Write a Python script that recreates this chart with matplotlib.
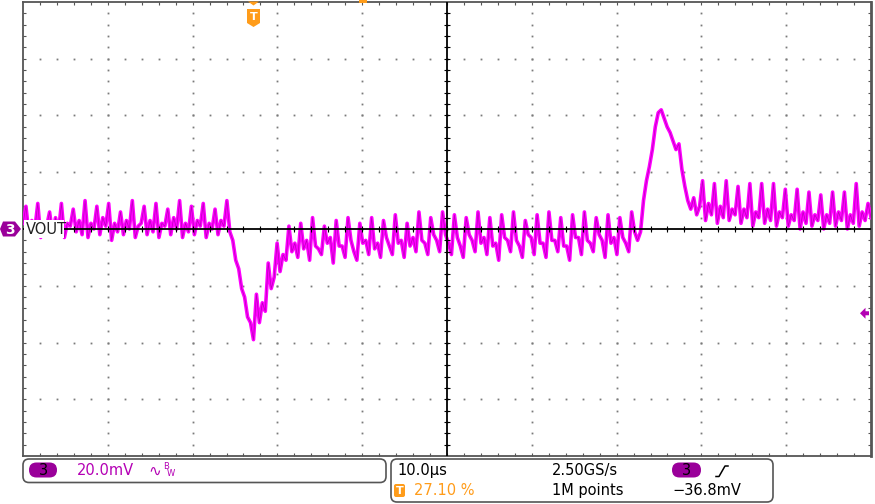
import numpy as np
import matplotlib
matplotlib.use('Agg')
import matplotlib.pyplot as plt
from matplotlib.patches import FancyBboxPatch, Polygon, Rectangle
from matplotlib.lines import Line2D

# scope setup
mv_per_div = 20.0
us_per_div = 10.0
n_hdiv, n_vdiv = 10, 8
trig_pct = 27.10
trig_marker_mv = -29.7

# channel 3 (VOUT), mV, equally spaced samples across the screen
vout_pre = [2, 8, -2, 3, 0, 9, -3, 2, 1, 6, -2, 4, -1, 9, -3, 2,
            1, 7, -1, 3, -2, 10, -3, 2, 0, 8, -2, 4, 1, 9, -4, 2,
            -1, 6, -2, 3, 0, 10, -3, 1, 2, 8, -2, 3, -1, 9, -3, 2,
            1, 7, -2, 4, 0, 10, -3, 2, -1, 8, -2, 3, 1, 9, -3, 2,
            0, 7, -2, 3, 1, 10, -1]
vout_dip = [-4, -11, -14, -21, -24, -31, -33, -39,
            -23, -33, -26, -29, -12, -21, -17, -5, -15, -9, -11, 1, -8]
vout_mid = [-5, -10, 2, -7, -4, -11, 4, -6, -7, -9, 1, -5, -3, -12, 3, -6,
            -6, -10, 4, -4, -8, -11, 2, -5, -4, -9, 4, -7, -5, -10, 3, -3,
            -6, -9, 5, -5, -4, -10, 2, -6, -3, -8, 6, -4, -5, -9, 4, -2,
            -4, -8, 6,
            -2, -5, -9, 5, -3, -6, -10, 4, -2, -4, -8, 6, -5, -3, -9, 4, -6,
            -5, -11, 5, -3, -4, -8, 6, -4, -6, -10, 3, -2, -3, -9, 5, -5,
            -5, -10, 6, -4, -4, -8, 4, -6, -6, -11, 5, -3, -3, -9, 6, -4,
            -5, -8, 4, -2, -4, -10, 5, -5, -3, -9, 4, -3, -5, -8, 6, -1, -4]
vout_peak = [-1, 10, 17, 22, 28, 36, 41, 42, 39, 36, 34, 31, 28, 30, 21,
             15, 10, 7, 11, 5]
vout_post = [8, 17, 3, 9, 5, 16, 2, 8, 4, 17, 3, 7, 5, 15, 2, 7, 4,
             16, 1, 6, 4, 16, 2, 7, 3, 16, 1, 6, 4, 14, 1, 5, 3,
             14, 0, 6, 2, 13, 1, 5, 3, 12, 0, 5, 2, 13, 1, 6, 3,
             13, 0, 5, 2, 16, 1, 6, 3, 9, 4]

vout = np.array(vout_pre + vout_dip + vout_mid + vout_peak + vout_post, float)

span = n_hdiv * us_per_div
t0 = -trig_pct / 100 * span
t = np.linspace(t0, t0 + span, len(vout))
ylo, yhi = -n_vdiv / 2 * mv_per_div, n_vdiv / 2 * mv_per_div
tc = t0 + span / 2

W, H = 875, 504
fig = plt.figure(figsize=(W / 100, H / 100), dpi=100)
ax = fig.add_axes([23 / W, (H - 456) / H, 848 / W, 454 / H])
ax.set_xlim(t0, t0 + span)
ax.set_ylim(ylo, yhi)

# dotted graticule
xmaj = t0 + us_per_div * np.arange(1, n_hdiv)
ymaj = ylo + mv_per_div * np.arange(1, n_vdiv)
xmin = t0 + us_per_div / 5 * np.arange(1, n_hdiv * 5)
ymin = ylo + mv_per_div / 5 * np.arange(1, n_vdiv * 5)
for x in xmaj:
    ax.plot(np.full_like(ymin, x), ymin, ls='', marker='s', ms=1.3,
            mec='none', color='#7a7a7a', zorder=1)
for y in ymaj:
    ax.plot(xmin, np.full_like(xmin, y), ls='', marker='s', ms=1.3,
            mec='none', color='#7a7a7a', zorder=1)

ax.plot(t, vout, color='#ff00ff', lw=2.6, zorder=3)
ax.plot(t, vout, color='#8a008a', lw=0.5, alpha=0.6, zorder=3)

ax.axhline(0, color='black', lw=1.3, zorder=4)
ax.axvline(tc, color='black', lw=1.3, zorder=4)
ax.plot(xmin, np.zeros_like(xmin), ls='', marker='|', ms=4, mew=0.8,
        color='black', zorder=4)
ax.plot(np.full_like(ymin, tc), ymin, ls='', marker='_', ms=4, mew=0.8,
        color='black', zorder=4)

ax.set_xticks(xmaj)
ax.set_yticks(ymaj)
ax.set_xticks(xmin, minor=True)
ax.set_yticks(ymin, minor=True)
ax.tick_params(which='both', direction='in', length=2.5, width=0.8,
               color='#555555', top=True, right=True,
               labelbottom=False, labelleft=False)
for s in ax.spines.values():
    s.set_color('#555555')
    s.set_linewidth(1.3)
ax.spines['right'].set_linewidth(2.0)

# overlay in pixel coordinates for scope annotations
ov = fig.add_axes([0, 0, 1, 1], zorder=10)
ov.set_xlim(0, W)
ov.set_ylim(H, 0)
ov.axis('off')
ov.patch.set_alpha(0)

purple = '#9a009a'
magenta = '#b400b4'
orange = '#ff9c1a'
fs = 10.5

# channel marker and label
ov.add_patch(Polygon([(0, 229), (3, 221.5), (15, 221.5), (21, 229), (15, 236.5), (3, 236.5)],
                     closed=True, fc=purple, ec='none'))
ov.text(10, 229.5, '3', color='white', fontsize=10, fontweight='bold',
        ha='center', va='center')
ov.add_patch(Rectangle((24, 220), 40, 18, fc='white', ec='none'))
ov.text(26, 229.5, 'VOUT', color='#222222', fontsize=10.5, ha='left', va='center')

# trigger position marker at top
ov.add_patch(Polygon([(248, 1.5), (259, 1.5), (253.5, 5.5)], closed=True,
                     fc=orange, ec='none'))
ov.add_patch(Polygon([(247, 9), (260, 9), (260, 23), (253.5, 27), (247, 23)],
                     closed=True, fc=orange, ec='none'))
ov.text(253.5, 16.5, 'T', color='white', fontsize=8, fontweight='bold',
        ha='center', va='center')
ov.add_patch(Rectangle((359, 0), 8, 2.5, fc=orange, ec='none'))

# trigger level arrow on the right
yl = 229 - trig_marker_mv / mv_per_div * (454 / n_vdiv)
ov.add_patch(Polygon([(860, yl), (865.5, yl - 5.5), (865.5, yl - 2), (869, yl - 2),
                      (869, yl + 2), (865.5, yl + 2), (865.5, yl + 5.5)],
                     closed=True, fc=magenta, ec='none'))

# readout boxes
ov.add_patch(FancyBboxPatch((23, 459), 363, 23.5, boxstyle='round,pad=0,rounding_size=6',
                            fc='white', ec='#555555', lw=1.2))
ov.add_patch(FancyBboxPatch((391, 459), 382, 43, boxstyle='round,pad=0,rounding_size=6',
                            fc='white', ec='#555555', lw=1.2))

ov.add_patch(FancyBboxPatch((29, 462.5), 28, 15, boxstyle='round,pad=0,rounding_size=7.5',
                            fc=purple, ec='none'))
ov.text(43, 470.5, '3', color='black', fontsize=fs, ha='center', va='center')
ov.text(77, 470.5, '20.0mV', color=magenta, fontsize=fs, ha='left', va='center')
ov.text(148, 471, '\u223f', color=magenta, fontsize=11, ha='left', va='center')
ov.text(163, 466.5, 'B', color=magenta, fontsize=6, ha='left', va='center')
ov.text(167, 474, 'W', color=magenta, fontsize=6, ha='left', va='center')

ov.text(397, 471, '10.0\u03bcs', color='black', fontsize=fs, ha='left', va='center')
ov.text(552, 471, '2.50GS/s', color='black', fontsize=fs, ha='left', va='center')
ov.add_patch(FancyBboxPatch((672, 462.5), 29, 15, boxstyle='round,pad=0,rounding_size=7.5',
                            fc=purple, ec='none'))
ov.text(686.5, 470.5, '3', color='black', fontsize=fs, ha='center', va='center')
ov.add_line(Line2D([716, 719, 725, 728], [476.5, 476.5, 466, 466],
                   color='black', lw=1.1))

ov.add_patch(FancyBboxPatch((394, 484), 11, 13, boxstyle='round,pad=0,rounding_size=2',
                            fc=orange, ec='none'))
ov.text(399.5, 490.5, 'T', color='white', fontsize=8, fontweight='bold',
        ha='center', va='center')
ov.text(414, 490.5, '27.10 %', color=orange, fontsize=fs, ha='left', va='center')
ov.text(552, 490.5, '1M points', color='black', fontsize=fs, ha='left', va='center')
ov.text(672, 490.5, '\u221236.8mV', color='black', fontsize=fs, ha='left', va='center')

fig.savefig('out.png', dpi=100)
